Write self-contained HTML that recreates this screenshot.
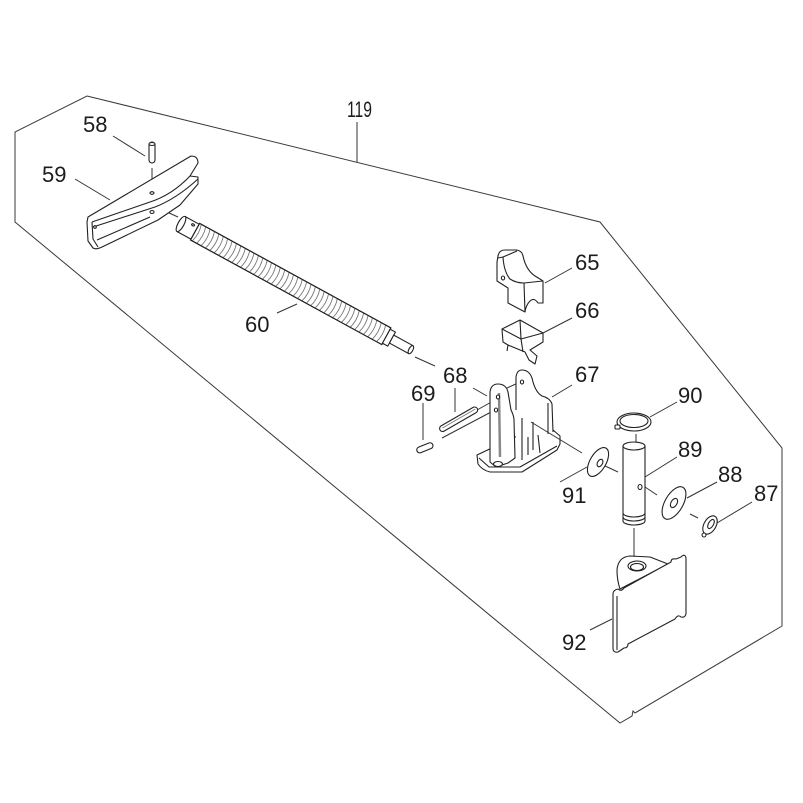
<!DOCTYPE html>
<html><head><meta charset="utf-8"><style>
html,body{margin:0;padding:0;background:#fff;}
svg{display:block;}
text{font-family:"Liberation Sans",Arial,sans-serif;font-size:22px;fill:#1c1c1c;}
</style></head><body>
<svg width="803" height="803" viewBox="0 0 803 803" xmlns="http://www.w3.org/2000/svg">
<rect width="803" height="803" fill="#fff"/>
<!-- outline 119 -->
<path d="M87,96 L600,222 L782,448 L782,626 L635,713 L633,711 L632,716 L620,723 L15,222 L15,132 Z" fill="none" stroke="#3a3a3a" stroke-width="1"/>
<g stroke="#333" stroke-width="1" fill="none">
<!-- leaders -->
<line x1="357" y1="122" x2="357" y2="162"/>
<line x1="113" y1="136" x2="145" y2="156"/>
<line x1="75" y1="179" x2="110" y2="200"/>
<line x1="277" y1="313" x2="297" y2="304"/>
<line x1="545" y1="283" x2="572" y2="268"/>
<line x1="543" y1="333" x2="572" y2="318"/>
<line x1="552" y1="397" x2="572" y2="385"/>
<line x1="455" y1="388" x2="455" y2="412"/>
<line x1="423" y1="403" x2="423" y2="440"/>
<line x1="650" y1="417" x2="677" y2="402"/>
<line x1="645" y1="477" x2="677" y2="457"/>
<line x1="687" y1="498" x2="717" y2="482"/>
<line x1="717" y1="523" x2="752" y2="502"/>
<line x1="560" y1="482" x2="587" y2="467"/>
<line x1="612" y1="619" x2="590" y2="630"/>
<!-- centerlines -->
<line x1="152" y1="168" x2="152" y2="191"/>
<line x1="158" y1="208" x2="178" y2="217"/>
<line x1="415" y1="357" x2="435" y2="366"/>
<line x1="473" y1="388" x2="487" y2="396"/>
<line x1="477" y1="410" x2="495" y2="400"/>
<line x1="442" y1="438" x2="493" y2="411"/>
<line x1="507" y1="388" x2="520" y2="382"/>
<line x1="603" y1="465" x2="618" y2="472"/>
<line x1="636" y1="434" x2="636" y2="445"/>
<line x1="642" y1="485" x2="657" y2="495"/>
<line x1="690" y1="514" x2="698" y2="518"/>
<line x1="634" y1="528" x2="634" y2="561"/>
</g>

<g stroke="#222" stroke-width="1.1" fill="#fff" stroke-linejoin="round">
<!-- 58 pin -->
<rect x="149" y="142" width="6" height="21" rx="3"/>
<ellipse cx="152" cy="144" rx="3" ry="1.5"/>
<!-- 59 bracket -->
<path d="M88,217 L191,156 Q198,156 198,163 L190,176 L198,177 L198,184 L180,205 L158,220 L102,247 Q96,250 93,248 L88,241 L87,222 Z"/>
<path d="M92,222 L150,202 Q172,195 190,176" fill="none"/>
<path d="M93,227 L155,207 Q176,199 198,179" fill="none"/>
<path d="M92,222 L93,239 L98,247" fill="none"/>
<path d="M97,240 L150,217" fill="none"/>
<ellipse cx="152" cy="193" rx="2" ry="1.3"/>
<ellipse cx="152" cy="212" rx="2" ry="1.5"/>
<ellipse cx="95" cy="227" rx="1.3" ry="1.3"/>
<!-- 60 rod -->
<g transform="translate(181,224) rotate(28.66)">
<rect x="0" y="-8.5" width="17" height="17"/>
<ellipse cx="0" cy="0" rx="3" ry="8.5"/>
<ellipse cx="11" cy="-5" rx="1.5" ry="1"/>
<rect x="16" y="-9.5" width="218" height="19"/>
<path fill="none" stroke="#777" stroke-width="0.9" d="M18,-9.5q3,9.5 0,19M23,-9.5q3,9.5 0,19M28,-9.5q3,9.5 0,19M33,-9.5q3,9.5 0,19M38,-9.5q3,9.5 0,19M43,-9.5q3,9.5 0,19M48,-9.5q3,9.5 0,19M53,-9.5q3,9.5 0,19M58,-9.5q3,9.5 0,19M63,-9.5q3,9.5 0,19M68,-9.5q3,9.5 0,19M73,-9.5q3,9.5 0,19M78,-9.5q3,9.5 0,19M83,-9.5q3,9.5 0,19M88,-9.5q3,9.5 0,19M93,-9.5q3,9.5 0,19M98,-9.5q3,9.5 0,19M103,-9.5q3,9.5 0,19M108,-9.5q3,9.5 0,19M113,-9.5q3,9.5 0,19M118,-9.5q3,9.5 0,19M123,-9.5q3,9.5 0,19M128,-9.5q3,9.5 0,19M133,-9.5q3,9.5 0,19M138,-9.5q3,9.5 0,19M143,-9.5q3,9.5 0,19M148,-9.5q3,9.5 0,19M153,-9.5q3,9.5 0,19M158,-9.5q3,9.5 0,19M163,-9.5q3,9.5 0,19M168,-9.5q3,9.5 0,19M173,-9.5q3,9.5 0,19M178,-9.5q3,9.5 0,19M183,-9.5q3,9.5 0,19M188,-9.5q3,9.5 0,19M193,-9.5q3,9.5 0,19M198,-9.5q3,9.5 0,19M203,-9.5q3,9.5 0,19M208,-9.5q3,9.5 0,19M213,-9.5q3,9.5 0,19M218,-9.5q3,9.5 0,19M223,-9.5q3,9.5 0,19M228,-9.5q3,9.5 0,19"/>
<rect x="16" y="-9.5" width="218" height="19" fill="none"/>
<rect x="234" y="-8" width="6" height="16"/>
<rect x="240" y="-4.5" width="22" height="9"/>
<ellipse cx="262" cy="0" rx="2" ry="4.5"/>
</g>
<!-- 65 block -->
<path d="M498,256 Q499,250 505,250 L517,250 Q522,251 523,256 Q526,270 535,276 Q540,279 543,281 L543,303 L538,303 Q534,297 530,301 Q526,305 525,312 L508,303 L508,288 L497,281 L497,262 Z"/>
<path d="M498,258 L503,257 Q504,272 510,279 Q516,283 524,283 L543,281" fill="none"/>
<path d="M503,257 L517,251" fill="none"/>
<line x1="524" y1="283" x2="525" y2="312"/>
<ellipse cx="503" cy="278" rx="1.6" ry="2"/>
<!-- 66 clip -->
<path d="M502,329 L520,320 L543,333 L543,342 L530,350 L537,356 L535,364 L529,360 L525,352 L508,345 L503,342 Z"/>
<path d="M502,329 L521,339 L543,333 M521,339 L523,352 M520,320 L521,339 M508,345 L507,351" fill="none"/>
<!-- 67 base bracket -->
<path d="M477,455 L515,437 L553,430 L560,436 L560,444 L557,450 L522,472 L490,472 Q482,470 478,464 Z"/>
<path d="M479,458 L489,467 L520,467 L557,446" fill="none"/>
<!-- back plate: fill then outline -->
<path d="M516,458 L516,377 Q517,370 522,370 Q529,370 532,378 Q535,392 542,396 Q550,398 552,404 L553,436 L522,460 Z" stroke="none"/>
<path d="M516,410 L516,377 Q517,370 522,370 Q529,370 532,378 Q535,392 542,396 Q550,398 552,404 L553,432" fill="none"/>
<path d="M548,403 L548,434 M522,418 L522,460 M528,437 L528,455 M538,435 L540,453 M533,422 L533,450" fill="none"/>
<line x1="531" y1="422" x2="582" y2="453" stroke="#333" stroke-width="1"/>
<!-- front plate -->
<path d="M490,452 L490,392 Q491,384 498,384 Q506,384 508,392 L511,410 Q514,416 514,420 L515,458 L508,463 L496,467 L490,462 Z"/>
<line x1="499" y1="393" x2="500" y2="457" stroke="#888" stroke-width="2.5"/>
<ellipse cx="498" cy="397" rx="1.6" ry="2"/>
<ellipse cx="496" cy="410" rx="1.6" ry="2"/>
<ellipse cx="522" cy="382" rx="1.6" ry="2"/>
<ellipse cx="498" cy="464" rx="4.5" ry="2.5"/>
<!-- 68 pin -->
<g transform="translate(440,430) rotate(-30)"><rect x="0" y="-3" width="43" height="6" rx="3"/><line x1="3" y1="-0.5" x2="41" y2="-0.5" stroke="#666" stroke-width="0.8"/></g>
<!-- 69 pin -->
<g transform="translate(417,451) rotate(-22)"><rect x="0" y="-3" width="17" height="6" rx="3"/></g>
<!-- 91 washer -->
<ellipse cx="598" cy="462" rx="8" ry="16" transform="rotate(30 598 462)"/>
<ellipse cx="600" cy="463" rx="2.5" ry="4" transform="rotate(30 600 463)"/>
<!-- 90 snap ring -->
<ellipse cx="634" cy="422" rx="17" ry="9"/>
<ellipse cx="634" cy="421" rx="14" ry="6.5"/>
<rect x="615" y="425" width="5" height="4" rx="1"/>
<!-- 89 pin -->
<path d="M623,446 L623,521 A11,4 0 0 0 645,521 L645,446 Z"/>
<ellipse cx="634" cy="446" rx="11" ry="4"/>
<path d="M623,513 A11,4 0 0 0 645,513 M623,517 A11,4 0 0 0 645,517" fill="none"/>
<ellipse cx="640" cy="487" rx="2" ry="2.5"/>
<!-- 88 washer -->
<ellipse cx="674" cy="503" rx="9" ry="18" transform="rotate(30 674 503)"/>
<ellipse cx="674" cy="503" rx="3" ry="5" transform="rotate(30 674 503)"/>
<!-- 87 e-ring -->
<ellipse cx="710" cy="525" rx="6" ry="10" transform="rotate(30 710 525)"/>
<ellipse cx="711" cy="524" rx="2.5" ry="5" transform="rotate(30 711 524)"/>
<circle cx="704" cy="535" r="2"/>
<!-- 92 plate -->
<path d="M620,589 Q617,580 617,570 Q618,557 630,556 L650,557 L668,564 Z"/>
<path d="M613,594 Q613,590 618,589 Q621,592 624,588 L671,562 Q671,558 676,559 L681,557 Q685,553 686,558 L686,614 Q685,618 681,617 Q678,614 675,619 L628,644 Q628,648 624,648 L618,652 Q613,653 613,648 Z"/>
<line x1="617" y1="596" x2="617" y2="650"/>
<ellipse cx="637" cy="566" rx="9" ry="5"/>
<ellipse cx="637" cy="567" rx="6.5" ry="3.5"/>
</g>

<!-- labels -->
<text x="347" y="117" textLength="25" lengthAdjust="spacingAndGlyphs">119</text>
<text x="83" y="132">58</text>
<text x="42" y="182">59</text>
<text x="245" y="332">60</text>
<text x="575" y="270">65</text>
<text x="575" y="318">66</text>
<text x="575" y="382">67</text>
<text x="443" y="383">68</text>
<text x="411" y="401">69</text>
<text x="678" y="403">90</text>
<text x="678" y="457">89</text>
<text x="718" y="482">88</text>
<text x="754" y="501">87</text>
<text x="562" y="503">91</text>
<text x="562" y="650">92</text>
</svg>
</body></html>
